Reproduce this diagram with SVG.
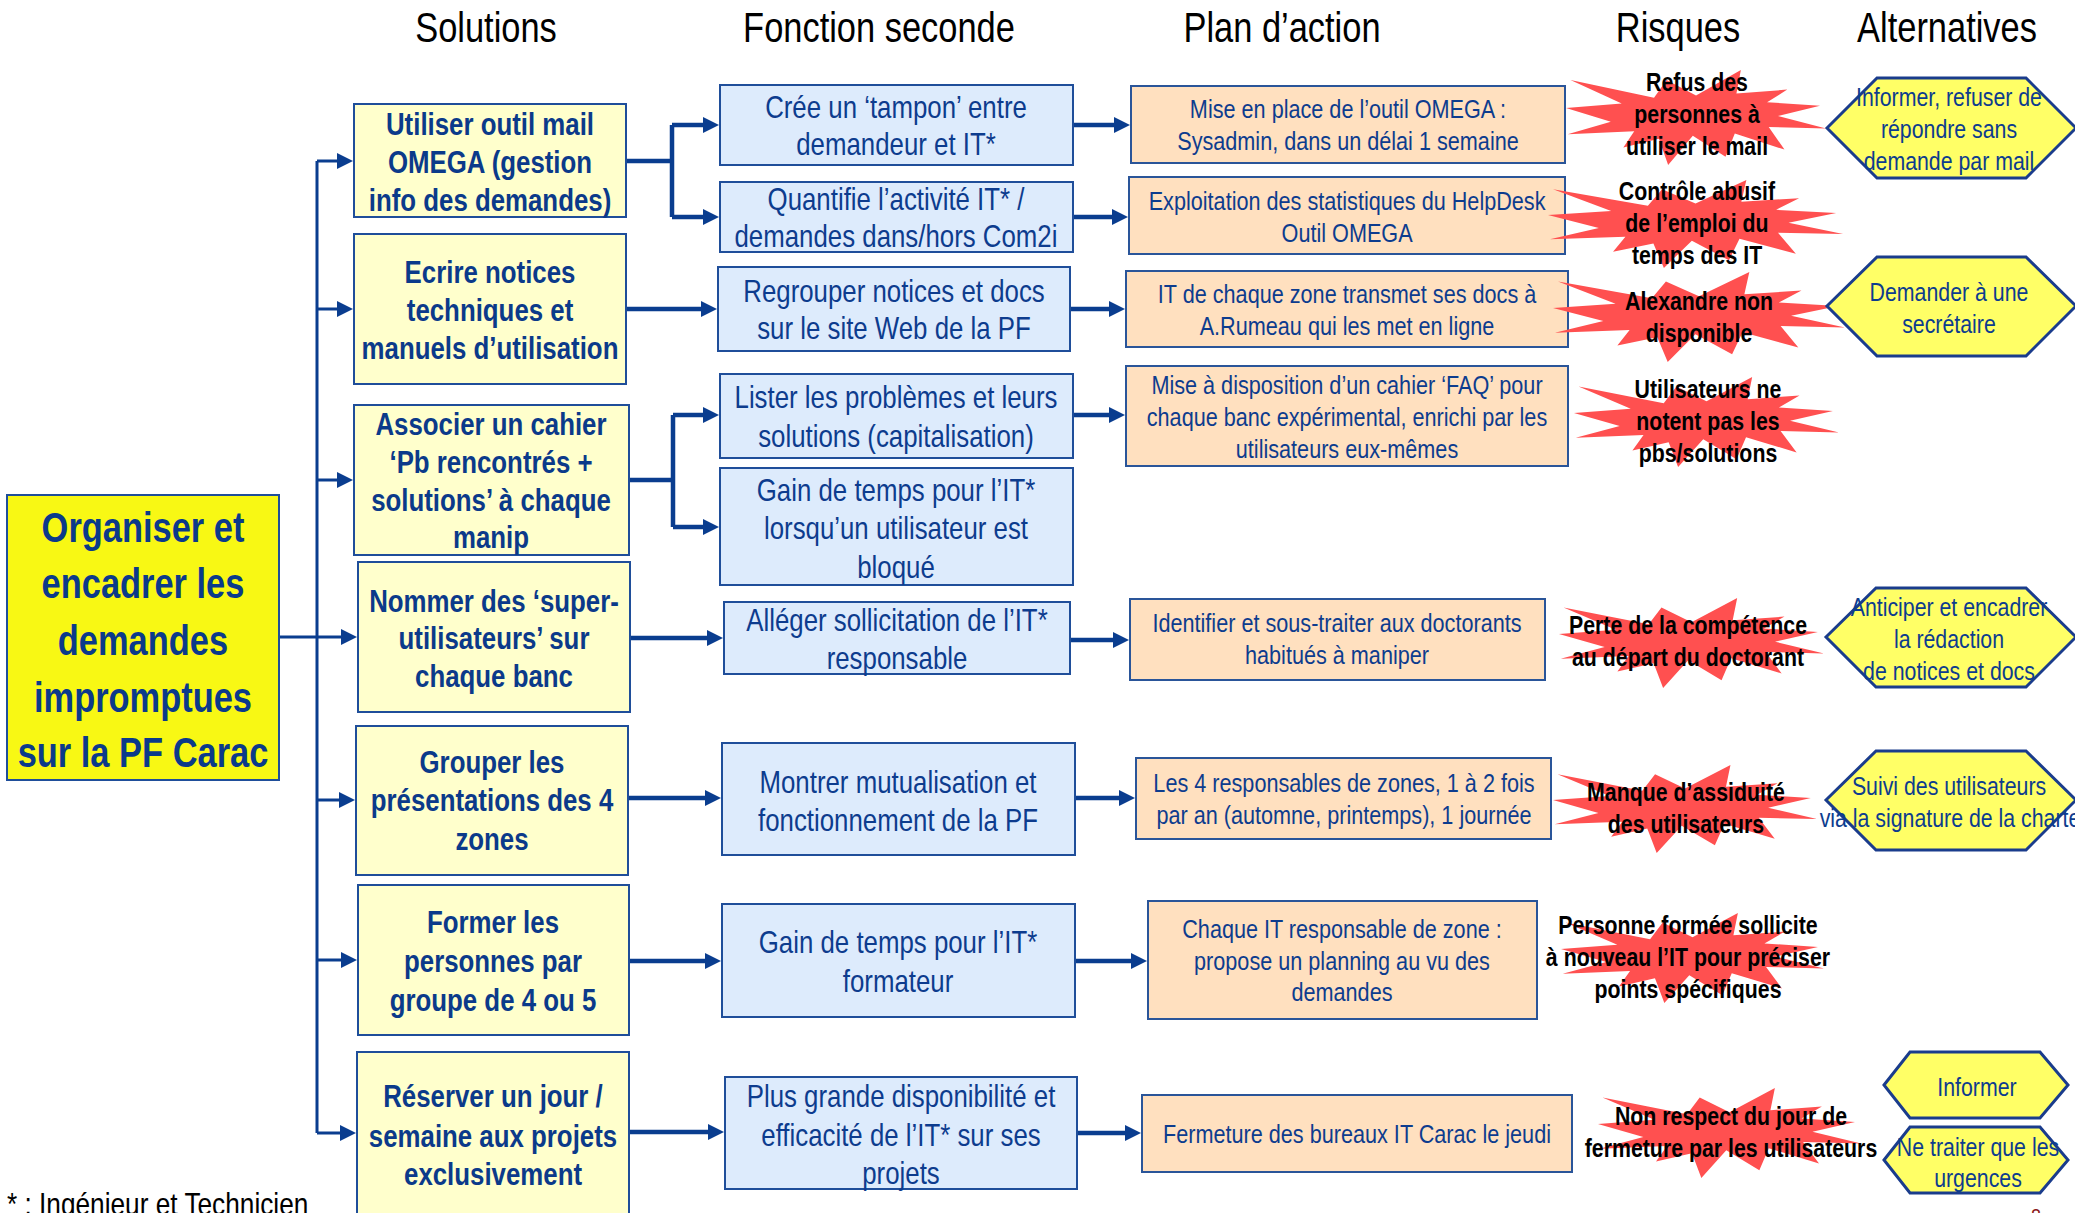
<svg xmlns="http://www.w3.org/2000/svg" xmlns:xlink="http://www.w3.org/1999/xlink" width="2075" height="1213" viewBox="0 0 2075 1213">
<style>
text{font-family:"Liberation Sans Narrow","Liberation Sans",Arial,sans-serif;text-anchor:middle;transform-box:fill-box;transform-origin:center;transform:scaleX(0.82)}
.title{font-size:42px;fill:#000}
.sol rect{fill:#FFFFCC;stroke:#1F4E9A;stroke-width:2}
.sol text{font-size:31.5px;font-weight:bold;fill:#0B3A8A}
.main rect{fill:#F8F814;stroke:#1F4E9A;stroke-width:2}
.main text{font-size:42px;font-weight:bold;fill:#0B3A8A}
.fon rect{fill:#DDEBFC;stroke:#1F4E9A;stroke-width:2}
.fon text{font-size:31.5px;fill:#0D3C8E}
.plan rect{fill:#FFE0BF;stroke:#2A5599;stroke-width:2}
.plan text{font-size:26.4px;fill:#0D3C8E}
.risk use{fill:#FF5050}
.risk text{font-size:26px;font-weight:bold;fill:#000}
.alt polygon{fill:#FFFF66;stroke:#1A3C8C;stroke-width:3}
.alt text{font-size:26px;fill:#0D3C8E}
.tree{fill:none;stroke:#0A3D8F;stroke-width:3}
.thick{fill:none;stroke:#0A3D8F;stroke-width:4.5}
.foot{font-size:32px;fill:#000;text-anchor:start;transform-origin:left center}
</style>
<defs>
<marker id="ah" viewBox="0 0 16 16" markerWidth="16" markerHeight="16" refX="1" refY="8" orient="auto" markerUnits="userSpaceOnUse">
<path d="M0,0 L16,8 L0,16 Z" fill="#0A3D8F"/>
</marker>
<path id="boom" d="M10800,5800 L14522,0 L14155,5325 L18380,4457 L16702,7315 L21097,8137 L17607,10475 L21600,13290 L16837,12942 L18145,18095 L14020,14457 L13247,19737 L10532,14935 L8485,21600 L7715,15627 L4762,17617 L5667,13937 L135,14587 L3722,11775 L0,8615 L4627,7617 L370,2295 L7312,6320 L8352,2295 Z"/>
</defs>

<g id="titles">
<text class="title" x="486" y="42">Solutions</text>
<text class="title" x="879" y="42">Fonction seconde</text>
<text class="title" x="1282" y="42">Plan d’action</text>
<text class="title" x="1678" y="42">Risques</text>
<text class="title" x="1947" y="42">Alternatives</text>
</g>

<g id="connectors">
<path class="tree" d="M279,637 H317 M317,161 V1133"/>
<path class="tree" marker-end="url(#ah)" d="M317,161 H338"/>
<path class="tree" marker-end="url(#ah)" d="M317,309 H338"/>
<path class="tree" marker-end="url(#ah)" d="M317,480 H338"/>
<path class="tree" marker-end="url(#ah)" d="M317,637 H342"/>
<path class="tree" marker-end="url(#ah)" d="M317,800 H340"/>
<path class="tree" marker-end="url(#ah)" d="M317,960 H342"/>
<path class="tree" marker-end="url(#ah)" d="M317,1133 H341"/>

<path class="thick" d="M626,161 H672 M672,125 V217 M629,480 H673 M673,415 V527"/>
<path class="thick" marker-end="url(#ah)" d="M672,125 H704"/>
<path class="thick" marker-end="url(#ah)" d="M672,217 H704"/>
<path class="thick" marker-end="url(#ah)" d="M626,309 H702"/>
<path class="thick" marker-end="url(#ah)" d="M673,415 H704"/>
<path class="thick" marker-end="url(#ah)" d="M673,527 H704"/>
<path class="thick" marker-end="url(#ah)" d="M630,638 H708"/>
<path class="thick" marker-end="url(#ah)" d="M628,798 H706"/>
<path class="thick" marker-end="url(#ah)" d="M629,961 H706"/>
<path class="thick" marker-end="url(#ah)" d="M629,1132 H709"/>

<path class="thick" marker-end="url(#ah)" d="M1073,125 H1115"/>
<path class="thick" marker-end="url(#ah)" d="M1073,217 H1113"/>
<path class="thick" marker-end="url(#ah)" d="M1070,309 H1110"/>
<path class="thick" marker-end="url(#ah)" d="M1073,415 H1110"/>
<path class="thick" marker-end="url(#ah)" d="M1070,640 H1114"/>
<path class="thick" marker-end="url(#ah)" d="M1075,798 H1120"/>
<path class="thick" marker-end="url(#ah)" d="M1075,961 H1132"/>
<path class="thick" marker-end="url(#ah)" d="M1077,1133 H1126"/>
</g>

<g id="main" class="main">
<rect x="7" y="495" width="272" height="285"/>
<text x="143" y="542">Organiser et</text>
<text x="143" y="598">encadrer les</text>
<text x="143" y="655">demandes</text>
<text x="143" y="712">impromptues</text>
<text x="143" y="767">sur la PF Carac</text>
</g>

<g id="sol1" class="sol">
<rect x="354" y="104" width="272" height="113"/>
<text x="490" y="135">Utiliser outil mail</text>
<text x="490" y="173">OMEGA (gestion</text>
<text x="490" y="211">info des demandes)</text>
</g>
<g id="sol2" class="sol">
<rect x="354" y="234" width="272" height="150"/>
<text x="490" y="283">Ecrire notices</text>
<text x="490" y="321">techniques et</text>
<text x="490" y="359">manuels d’utilisation</text>
</g>
<g id="sol3" class="sol">
<rect x="354" y="405" width="275" height="150"/>
<text x="491" y="435">Associer un cahier</text>
<text x="491" y="473">‘Pb rencontrés +</text>
<text x="491" y="511">solutions’ à chaque</text>
<text x="491" y="548">manip</text>
</g>
<g id="sol4" class="sol">
<rect x="358" y="562" width="272" height="150"/>
<text x="494" y="612">Nommer des ‘super-</text>
<text x="494" y="649">utilisateurs’ sur</text>
<text x="494" y="687">chaque banc</text>
</g>
<g id="sol5" class="sol">
<rect x="356" y="726" width="272" height="149"/>
<text x="492" y="773">Grouper les</text>
<text x="492" y="811">présentations des 4</text>
<text x="492" y="850">zones</text>
</g>
<g id="sol6" class="sol">
<rect x="358" y="885" width="271" height="150"/>
<text x="493" y="933">Former les</text>
<text x="493" y="972">personnes par</text>
<text x="493" y="1011">groupe de 4 ou 5</text>
</g>
<g id="sol7" class="sol">
<rect x="357" y="1052" width="272" height="172"/>
<text x="493" y="1107">Réserver un jour /</text>
<text x="493" y="1147">semaine aux projets</text>
<text x="493" y="1185">exclusivement</text>
</g>

<g id="fon1" class="fon">
<rect x="720" y="85" width="353" height="80"/>
<text x="896" y="118">Crée un ‘tampon’ entre</text>
<text x="896" y="155">demandeur et IT*</text>
</g>
<g id="fon2" class="fon">
<rect x="720" y="182" width="353" height="70"/>
<text x="896" y="210">Quantifie l’activité IT* /</text>
<text x="896" y="247">demandes dans/hors Com2i</text>
</g>
<g id="fon3" class="fon">
<rect x="718" y="267" width="352" height="84"/>
<text x="894" y="302">Regrouper notices et docs</text>
<text x="894" y="339">sur le site Web de la PF</text>
</g>
<g id="fon4" class="fon">
<rect x="720" y="374" width="353" height="84"/>
<text x="896" y="408">Lister les problèmes et leurs</text>
<text x="896" y="447">solutions (capitalisation)</text>
</g>
<g id="fon5" class="fon">
<rect x="720" y="468" width="353" height="117"/>
<text x="896" y="501">Gain de temps pour l’IT*</text>
<text x="896" y="539">lorsqu’un utilisateur est</text>
<text x="896" y="578">bloqué</text>
</g>
<g id="fon6" class="fon">
<rect x="724" y="602" width="346" height="72"/>
<text x="897" y="631">Alléger sollicitation de l’IT*</text>
<text x="897" y="669">responsable</text>
</g>
<g id="fon7" class="fon">
<rect x="722" y="743" width="353" height="112"/>
<text x="898" y="793">Montrer mutualisation et</text>
<text x="898" y="831">fonctionnement de la PF</text>
</g>
<g id="fon8" class="fon">
<rect x="722" y="904" width="353" height="113"/>
<text x="898" y="953">Gain de temps pour l’IT*</text>
<text x="898" y="992">formateur</text>
</g>
<g id="fon9" class="fon">
<rect x="725" y="1077" width="352" height="112"/>
<text x="901" y="1107">Plus grande disponibilité et</text>
<text x="901" y="1146">efficacité de l’IT* sur ses</text>
<text x="901" y="1184">projets</text>
</g>

<g id="plan1" class="plan">
<rect x="1131" y="86" width="434" height="77"/>
<text x="1348" y="118">Mise en place de l’outil OMEGA :</text>
<text x="1348" y="150">Sysadmin, dans un délai 1 semaine</text>
</g>
<g id="plan2" class="plan">
<rect x="1129" y="177" width="436" height="77"/>
<text x="1347" y="210">Exploitation des statistiques du HelpDesk</text>
<text x="1347" y="242">Outil OMEGA</text>
</g>
<g id="plan3" class="plan">
<rect x="1126" y="271" width="442" height="76"/>
<text x="1347" y="303">IT de chaque zone transmet ses docs à</text>
<text x="1347" y="335">A.Rumeau qui les met en ligne</text>
</g>
<g id="plan4" class="plan">
<rect x="1126" y="366" width="442" height="100"/>
<text x="1347" y="394">Mise à disposition d’un cahier ‘FAQ’ pour</text>
<text x="1347" y="426">chaque banc expérimental, enrichi par les</text>
<text x="1347" y="458">utilisateurs eux-mêmes</text>
</g>
<g id="plan5" class="plan">
<rect x="1130" y="599" width="415" height="81"/>
<text x="1337" y="632">Identifier et sous-traiter aux doctorants</text>
<text x="1337" y="664">habitués à maniper</text>
</g>
<g id="plan6" class="plan">
<rect x="1136" y="758" width="415" height="81"/>
<text x="1344" y="792">Les 4 responsables de zones, 1 à 2 fois</text>
<text x="1344" y="824">par an (automne, printemps), 1 journée</text>
</g>
<g id="plan7" class="plan">
<rect x="1148" y="901" width="389" height="118"/>
<text x="1342" y="938">Chaque IT responsable de zone :</text>
<text x="1342" y="970">propose un planning au vu des</text>
<text x="1342" y="1001">demandes</text>
</g>
<g id="plan8" class="plan">
<rect x="1142" y="1095" width="430" height="77"/>
<text x="1357" y="1143">Fermeture des bureaux IT Carac le jeudi</text>
</g>

<g id="risk1" class="risk">
<use xlink:href="#boom" href="#boom" transform="translate(1566,70) scale(0.01204,0.0044)"/>
<text x="1697" y="91">Refus des</text>
<text x="1697" y="123">personnes à</text>
<text x="1697" y="155">utiliser le mail</text>
</g>
<g id="risk2" class="risk">
<use xlink:href="#boom" href="#boom" transform="translate(1548,180) scale(0.01366,0.00407)"/>
<text x="1697" y="200">Contrôle abusif</text>
<text x="1697" y="232">de l’emploi du</text>
<text x="1697" y="264">temps des IT</text>
</g>
<g id="risk3" class="risk">
<use xlink:href="#boom" href="#boom" transform="translate(1553,272) scale(0.01352,0.00417)"/>
<text x="1699" y="310">Alexandre non</text>
<text x="1699" y="342">disponible</text>
</g>
<g id="risk4" class="risk">
<use xlink:href="#boom" href="#boom" transform="translate(1574,377) scale(0.01227,0.00417)"/>
<text x="1708" y="398">Utilisateurs ne</text>
<text x="1708" y="430">notent pas les</text>
<text x="1708" y="462">pbs/solutions</text>
</g>
<g id="risk5" class="risk">
<use xlink:href="#boom" href="#boom" transform="translate(1559,598) scale(0.01227,0.00417)"/>
<text x="1688" y="634">Perte de la compétence</text>
<text x="1688" y="666">au départ du doctorant</text>
</g>
<g id="risk6" class="risk">
<use xlink:href="#boom" href="#boom" transform="translate(1553,765) scale(0.01222,0.00407)"/>
<text x="1686" y="801">Manque d’assiduité</text>
<text x="1686" y="833">des utilisateurs</text>
</g>
<g id="risk7" class="risk">
<use xlink:href="#boom" href="#boom" transform="translate(1561,913) scale(0.01218,0.00417)"/>
<text x="1688" y="934">Personne formée sollicite</text>
<text x="1688" y="966">à nouveau l’IT pour préciser</text>
<text x="1688" y="998">points spécifiques</text>
</g>
<g id="risk8" class="risk">
<use xlink:href="#boom" href="#boom" transform="translate(1598,1088) scale(0.01218,0.00417)"/>
<text x="1731" y="1125">Non respect du jour de</text>
<text x="1731" y="1157">fermeture par les utilisateurs</text>
</g>

<g id="alt1" class="alt">
<polygon points="1827,128 1877,78 2026,78 2076,128 2026,178 1877,178"/>
<text x="1949" y="106">Informer, refuser de</text>
<text x="1949" y="138">répondre sans</text>
<text x="1949" y="170">demande par mail</text>
</g>
<g id="alt2" class="alt">
<polygon points="1827,306 1877,257 2026,257 2076,306 2026,356 1877,356"/>
<text x="1949" y="301">Demander à une</text>
<text x="1949" y="333">secrétaire</text>
</g>
<g id="alt3" class="alt">
<polygon points="1826,637 1876,588 2026,588 2076,637 2026,687 1876,687"/>
<text x="1949" y="616">Anticiper et encadrer</text>
<text x="1949" y="648">la rédaction</text>
<text x="1949" y="680">de notices et docs</text>
</g>
<g id="alt4" class="alt">
<polygon points="1826,800 1876,751 2026,751 2076,800 2026,850 1876,850"/>
<text x="1949" y="795">Suivi des utilisateurs</text>
<text x="1950" y="827">via la signature de la charte</text>
</g>
<g id="alt5" class="alt">
<polygon points="1884,1085 1910,1052 2040,1052 2068,1085 2040,1118 1910,1118"/>
<text x="1977" y="1096">Informer</text>
</g>
<g id="alt6" class="alt">
<polygon points="1884,1160 1910,1127 2040,1127 2068,1160 2040,1193 1910,1193"/>
<text x="1978" y="1156">Ne traiter que les</text>
<text x="1978" y="1187">urgences</text>
</g>

<g id="footnote">
<text class="foot" x="7" y="1215">* : Ingénieur et Technicien</text>
<text x="2036" y="1224" style="font-size:22px;fill:#8B1A1A">8</text>
</g>
</svg>
